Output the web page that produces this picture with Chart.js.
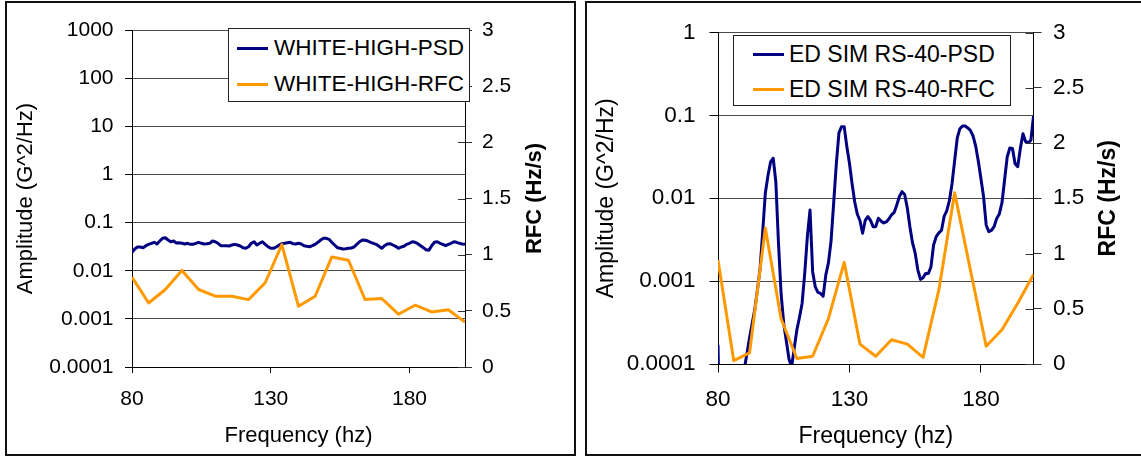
<!DOCTYPE html>
<html>
<head>
<meta charset="utf-8">
<script src="https://cdn.jsdelivr.net/npm/chart.js"></script>
<style>
body { margin: 0; width: 1141px; height: 456px; overflow: hidden; background: #fff; font-family: 'Liberation Sans', Arial, sans-serif; }
.panel { position: absolute; top: 1px; height: 455px; box-sizing: border-box; border: 2px solid #111; }
canvas { position: absolute; top: 0; }
.legend { position: absolute; box-sizing: border-box; border: 1px solid #222; background: #fff; z-index: 2; }
.legend .row { display: flex; align-items: center; white-space: nowrap; color: #000; }
.legend .swatch { display: inline-block; height: 3px; flex: none; }
</style>
</head>
<body>
<div class="panel" style="left:5px;width:571px"></div>
<div class="panel" style="left:585px;width:570px"></div>
<canvas id="whiteChart" width="580" height="456" style="left:0"></canvas>
<canvas id="simChart" width="561" height="456" style="left:580px"></canvas>
<div id="whiteLegend" class="legend"></div>
<div id="simLegend" class="legend"></div>
<script>
// frequency grids (Hz)
const psdFreq = [80,81,82,83,84,85,86,87,88,89,90,91,92,93,94,95,96,97,98,99,
  100,101,102,103,104,105,106,107,108,109,110,111,112,113,114,115,116,117,118,119,
  120,121,122,123,124,125,126,127,128,129,130,131,132,133,134,135,136,137,138,139,
  140,141,142,143,144,145,146,147,148,149,150,151,152,153,154,155,156,157,158,159,
  160,161,162,163,164,165,166,167,168,169,170,171,172,173,174,175,176,177,178,179,
  180,181,182,183,184,185,186,187,188,189,190,191,192,193,194,195,196,197,198,199,200];
const rfcFreq = [80,86,92,98,104,110,116,122,128,134,140,146,152,158,164,170,176,182,188,194,200];

// WHITE-HIGH
const whitePsd = [0.0241,0.0282,0.0311,0.0311,0.0301,0.0331,0.0353,0.0371,0.0389,0.0359,
  0.0414,0.0471,0.0484,0.0434,0.0400,0.0414,0.0376,0.0382,0.0371,0.0359,
  0.0371,0.0353,0.0353,0.0371,0.0389,0.0371,0.0359,0.0364,0.0371,0.0414,
  0.0400,0.0371,0.0331,0.0331,0.0331,0.0326,0.0342,0.0353,0.0342,0.0326,
  0.0301,0.0292,0.0315,0.0371,0.0400,0.0342,0.0371,0.0400,0.0353,0.0315,
  0.0292,0.0292,0.0311,0.0342,0.0364,0.0371,0.0382,0.0389,0.0364,0.0359,
  0.0371,0.0359,0.0331,0.0321,0.0315,0.0331,0.0353,0.0389,0.0434,0.0471,
  0.0471,0.0449,0.0389,0.0342,0.0301,0.0292,0.0282,0.0286,0.0292,0.0296,
  0.0311,0.0353,0.0400,0.0434,0.0428,0.0414,0.0389,0.0371,0.0353,0.0321,
  0.0292,0.0331,0.0359,0.0364,0.0342,0.0321,0.0292,0.0311,0.0321,0.0353,
  0.0371,0.0400,0.0389,0.0364,0.0331,0.0301,0.0273,0.0265,0.0331,0.0389,
  0.0400,0.0371,0.0353,0.0331,0.0353,0.0371,0.0400,0.0389,0.0371,0.0359,0.0353];
const whiteRfc = [0.80,0.57,0.69,0.86,0.69,0.63,0.63,0.60,0.75,1.09,0.54,0.63,0.98,0.95,0.60,0.61,0.47,0.55,0.49,0.51,0.40];

// ED SIM RS-40
const simPsd = [0.00017,0.000004,0.000003,0.000003,0.000004,0.000005,0.000006,0.000008,0.000012,0.00003,
  0.000087,0.000133,0.000207,0.000309,0.000456,0.000785,0.00141,0.00392,0.0115,0.0187,
  0.0274,0.0304,0.0157,0.00289,0.000705,0.000306,0.000188,0.000115,0.000092,0.000156,
  0.000258,0.000366,0.000541,0.00126,0.0035,0.0072,0.0013,0.00085,0.00073,0.00071,
  0.00066,0.00118,0.00166,0.00305,0.00877,0.0259,0.0614,0.0731,0.0731,0.042,
  0.0264,0.0149,0.00902,0.00641,0.00536,0.00378,0.0054,0.006,0.0054,0.00454,
  0.00454,0.00574,0.00532,0.00503,0.00518,0.00562,0.00629,0.00674,0.0083,0.0105,
  0.012,0.0111,0.00764,0.00451,0.00289,0.00217,0.00137,0.00105,0.0011,0.00124,
  0.00124,0.00148,0.00273,0.00344,0.00383,0.00409,0.00603,0.00703,0.00933,0.0149,
  0.0282,0.0534,0.0691,0.0745,0.0745,0.0705,0.0658,0.0564,0.0427,0.0282,
  0.0173,0.0105,0.00476,0.00396,0.00409,0.00454,0.0057,0.00647,0.00877,0.0166,
  0.0315,0.0404,0.0399,0.026,0.024,0.04,0.06,0.048,0.047,0.05,0.098];
const simRfc = [0.94,0.03,0.10,1.23,0.41,0.05,0.07,0.41,0.92,0.18,0.07,0.22,0.18,0.06,0.67,1.55,0.85,0.16,0.31,0.55,0.81];

// tick labels
const freqTicks = [80, 130, 180];
const whiteAmpTicks = [0.0001, 0.001, 0.01, 0.1, 1, 10, 100, 1000];
const simAmpTicks = [0.0001, 0.001, 0.01, 0.1, 1];
const rfcTicks = [0, 0.5, 1, 1.5, 2, 2.5, 3];

Chart.defaults.font.family = "'Liberation Sans', Arial, sans-serif";
Chart.defaults.color = '#000';

function pts(xs, ys) {
  return xs.map(function(x, i) { return {x: x, y: ys[i]}; });
}

// right axis: inner half of the tick marks and the bottom-to-top bold title
const rfcAxisExtras = {
  id: 'rfcAxisExtras',
  afterDraw: function(chart, args, opts) {
    const ctx = chart.ctx, s = chart.scales.y2, a = chart.chartArea;
    ctx.save();
    ctx.strokeStyle = '#333';
    ctx.lineWidth = 1;
    s.ticks.forEach(function(t) {
      const y = Math.round(s.getPixelForValue(t.value)) + 0.5;
      ctx.beginPath();
      ctx.moveTo(a.right - opts.inner, y);
      ctx.lineTo(a.right, y);
      ctx.stroke();
    });
    ctx.translate(a.right + opts.titleOffset, (a.top + a.bottom) / 2);
    ctx.rotate(-Math.PI / 2);
    ctx.font = 'bold ' + opts.size + "px 'Liberation Sans', Arial, sans-serif";
    ctx.fillStyle = '#000';
    ctx.textAlign = 'center';
    ctx.textBaseline = 'middle';
    ctx.fillText(opts.text, 0, 0);
    ctx.restore();
  }
};

function buildChart(id, s) {
  return new Chart(document.getElementById(id), {
    type: 'line',
    data: {
      datasets: [{
        label: s.psdLabel,
        data: pts(psdFreq, s.psd),
        borderColor: '#000080',
        borderWidth: 3,
        pointRadius: 0,
        tension: 0,
        borderJoinStyle: 'round',
        yAxisID: 'y',
        order: 1
      }, {
        label: s.rfcLabel,
        data: pts(rfcFreq, s.rfc),
        borderColor: '#FF9900',
        borderWidth: 3,
        pointRadius: 0,
        tension: 0,
        borderJoinStyle: 'round',
        yAxisID: 'y2',
        order: 0
      }]
    },
    options: {
      responsive: false,
      animation: false,
      devicePixelRatio: 1,
      layout: { padding: s.pad },
      plugins: {
        legend: { display: false },
        tooltip: { enabled: false },
        rfcAxisExtras: { inner: s.y2Tick, titleOffset: s.rfcTitleX, size: s.titleSize, text: 'RFC (Hz/s)' }
      },
      scales: {
        x: {
          type: 'linear',
          min: 80,
          max: 200,
          afterBuildTicks: function(sc) { sc.ticks = freqTicks.map(function(v) { return {value: v}; }); },
          afterFit: function(sc) { sc.height = s.xHeight; },
          grid: { drawOnChartArea: false, tickLength: s.xTick, tickColor: '#000' },
          border: { color: '#000' },
          ticks: { autoSkip: false, maxRotation: 0, padding: s.xPad, font: { size: s.tickSize }, callback: function(v) { return String(v); } },
          title: { display: true, text: 'Frequency (hz)', padding: 0, font: { size: s.titleSize } }
        },
        y: {
          type: 'logarithmic',
          position: 'left',
          min: s.ampTicks[0],
          max: s.ampTicks[s.ampTicks.length - 1],
          afterBuildTicks: function(sc) { sc.ticks = s.ampTicks.map(function(v) { return {value: v}; }); },
          afterFit: function(sc) { sc.width = s.yWidth; },
          grid: { color: '#4a4a4a', tickColor: '#000', tickLength: s.yTick },
          border: { color: '#000' },
          ticks: { autoSkip: false, padding: s.yPad, font: { size: s.tickSize }, callback: function(v) { return String(v); } },
          title: { display: true, text: 'Amplitude (G^2/Hz)', padding: 0, font: { size: s.titleSize } }
        },
        y2: {
          type: 'linear',
          position: 'right',
          min: 0,
          max: 3,
          afterBuildTicks: function(sc) { sc.ticks = rfcTicks.map(function(v) { return {value: v}; }); },
          afterFit: function(sc) { sc.width = s.y2Width; },
          grid: { drawOnChartArea: false, tickLength: s.y2Tick, tickColor: '#333' },
          border: { color: '#000' },
          ticks: { autoSkip: false, padding: s.y2Pad, font: { size: s.tickSize }, callback: function(v) { return String(v); } }
        }
      }
    },
    plugins: [rfcAxisExtras]
  });
}

function buildLegend(id, chart, l) {
  const box = document.getElementById(id);
  box.style.left = l.left + 'px';
  box.style.top = l.top + 'px';
  box.style.width = l.width + 'px';
  box.style.height = l.height + 'px';
  box.style.paddingTop = l.padTop + 'px';
  box.style.fontSize = l.size + 'px';
  chart.data.datasets.forEach(function(ds) {
    const row = document.createElement('div');
    row.className = 'row';
    row.style.height = l.rowHeight + 'px';
    const sw = document.createElement('span');
    sw.className = 'swatch';
    sw.style.width = l.swatchWidth + 'px';
    sw.style.marginLeft = l.swatchLeft + 'px';
    sw.style.marginRight = l.gap + 'px';
    sw.style.background = ds.borderColor;
    row.appendChild(sw);
    row.appendChild(document.createTextNode(ds.label));
    box.appendChild(row);
  });
}

const whiteChart = buildChart('whiteChart', {
  psdLabel: 'WHITE-HIGH-PSD', rfcLabel: 'WHITE-HIGH-RFC',
  psd: whitePsd, rfc: whiteRfc, ampTicks: whiteAmpTicks,
  pad: { left: 13, top: 30, right: 0, bottom: 7 },
  yWidth: 119, y2Width: 115, xHeight: 82,
  xTick: 6, xPad: 14, yTick: 7, yPad: 11.5, y2Tick: 7, y2Pad: 10,
  tickSize: 21, titleSize: 22, rfcTitleX: 69.5
});

const simChart = buildChart('simChart', {
  psdLabel: 'ED SIM RS-40-PSD', rfcLabel: 'ED SIM RS-40-RFC',
  psd: simPsd, rfc: simRfc, ampTicks: simAmpTicks,
  pad: { left: 12.6, top: 32.5, right: 0, bottom: 5.2 },
  yWidth: 125.4, y2Width: 107.5, xHeight: 86.8,
  xTick: 8.5, xPad: 14, yTick: 8.5, yPad: 14, y2Tick: 8, y2Pad: 11.5,
  tickSize: 22.5, titleSize: 23, rfcTitleX: 75.5
});

buildLegend('whiteLegend', whiteChart, { left: 228, top: 28, width: 242, height: 74, padTop: 1, rowHeight: 36, size: 22.5, swatchLeft: 8, swatchWidth: 31, gap: 6 });
buildLegend('simLegend', simChart, { left: 733, top: 35, width: 278, height: 71, padTop: 0.5, rowHeight: 35, size: 23, swatchLeft: 19, swatchWidth: 31, gap: 5 });
</script>
</body>
</html>
